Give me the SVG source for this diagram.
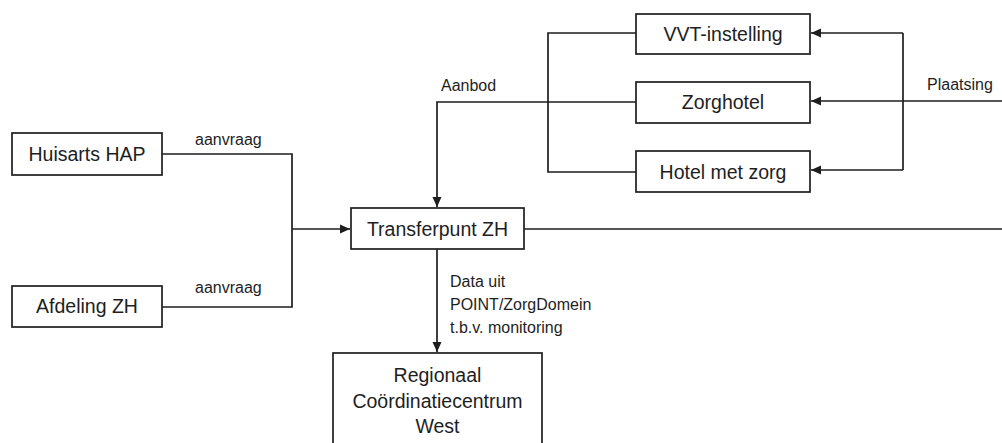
<svg xmlns="http://www.w3.org/2000/svg" width="1002" height="443" viewBox="0 0 1002 443">
  <style>
    .box { fill: #ffffff; stroke: #1e1e1e; stroke-width: 1.7; }
    .line { fill: none; stroke: #1e1e1e; stroke-width: 1.7; }
    .name { font-family: "Liberation Sans", Arial, sans-serif; font-size: 19.5px; fill: #1e1e1e; text-anchor: middle; }
    .lbl { font-family: "Liberation Sans", Arial, sans-serif; font-size: 16px; fill: #1e1e1e; }
  </style>
  <defs>
    <marker id="arrow" viewBox="0 0 10 10" refX="10" refY="5" markerWidth="10" markerHeight="10" markerUnits="userSpaceOnUse" orient="auto">
      <path d="M0,0.5 L10,5 L0,9.5 Z" fill="#1e1e1e"/>
    </marker>
  </defs>

  <rect width="1002" height="443" fill="#ffffff"/>

  <!-- connectors -->
  <g id="connectors">
    <!-- requests into the transfer point -->
    <path class="line" d="M162,154 H292 V307 H162"/>
    <path class="line" d="M292,229 H350" marker-end="url(#arrow)"/>
    <text class="lbl" x="195" y="145">aanvraag</text>
    <text class="lbl" x="195" y="293">aanvraag</text>

    <!-- offer from care providers -->
    <path class="line" d="M636,33 H548 V172 H636"/>
    <path class="line" d="M636,102 H437 V207" marker-end="url(#arrow)"/>
    <text class="lbl" x="441" y="91">Aanbod</text>

    <!-- placement back to care providers -->
    <path class="line" d="M1002,229 H524"/>
    <path class="line" d="M903,33 V170"/>
    <path class="line" d="M903,33 H811" marker-end="url(#arrow)"/>
    <path class="line" d="M903,170 H811" marker-end="url(#arrow)"/>
    <path class="line" d="M1002,101 H811" marker-end="url(#arrow)"/>
    <text class="lbl" x="927" y="90">Plaatsing</text>

    <!-- monitoring data -->
    <path class="line" d="M437,249 V352" marker-end="url(#arrow)"/>
    <text class="lbl" x="450" y="287">Data uit</text>
    <text class="lbl" x="450" y="310">POINT/ZorgDomein</text>
    <text class="lbl" x="450" y="333">t.b.v. monitoring</text>
  </g>

  <g id="huisarts">
    <rect class="box" x="12" y="133" width="150" height="42"/>
    <text class="name" x="87" y="161">Huisarts HAP</text>
  </g>

  <g id="afdeling">
    <rect class="box" x="12" y="286" width="150" height="41"/>
    <text class="name" x="87" y="313">Afdeling ZH</text>
  </g>

  <g id="transferpunt">
    <rect class="box" x="351" y="208" width="173" height="41"/>
    <text class="name" x="437.5" y="236">Transferpunt ZH</text>
  </g>

  <g id="vvt">
    <rect class="box" x="636" y="14" width="174" height="40"/>
    <text class="name" x="723" y="41">VVT-instelling</text>
  </g>

  <g id="zorghotel">
    <rect class="box" x="636" y="82" width="174" height="41"/>
    <text class="name" x="723" y="109">Zorghotel</text>
  </g>

  <g id="hotel-met-zorg">
    <rect class="box" x="636" y="151" width="174" height="41"/>
    <text class="name" x="723" y="179">Hotel met zorg</text>
  </g>

  <g id="rcc-west">
    <rect class="box" x="333" y="353" width="209" height="100"/>
    <text class="name" x="437.5" y="382">Regionaal</text>
    <text class="name" x="437.5" y="408">Coördinatiecentrum</text>
    <text class="name" x="437.5" y="433">West</text>
  </g>
</svg>
